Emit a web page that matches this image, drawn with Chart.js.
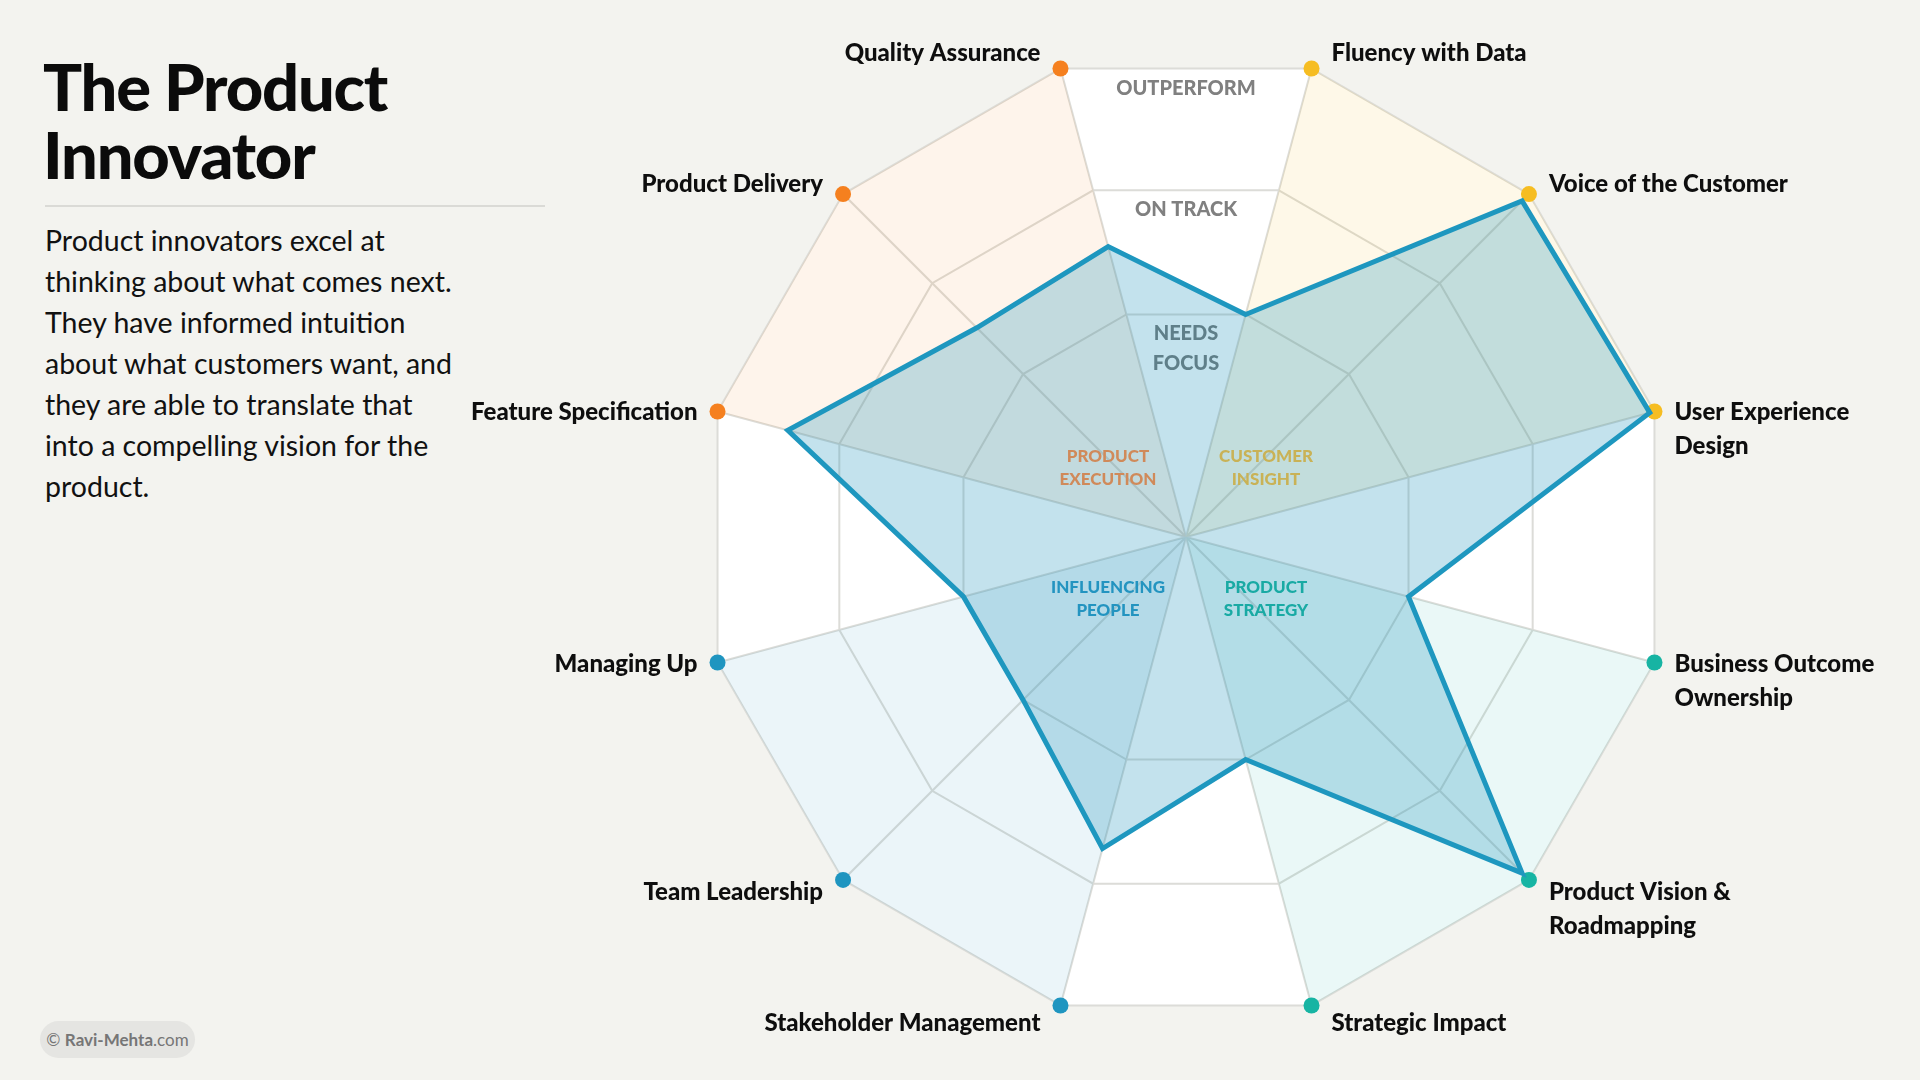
<!DOCTYPE html>
<html>
<head>
<meta charset="utf-8">
<title>The Product Innovator</title>
<script src="https://cdn.jsdelivr.net/npm/chart.js@4.4.1/dist/chart.umd.min.js"></script>
<style>
  html, body { margin: 0; padding: 0; }
  body {
    width: 1920px; height: 1080px; overflow: hidden; position: relative;
    background: #f3f3ef; color: #0b0b0b;
    font-family: Lato, 'Noto Sans', sans-serif;
  }
  #chartBox { position: absolute; left: 0; top: 0; width: 1920px; height: 1080px; }
  .title {
    position: absolute; left: 43px; top: 52px; margin: 0;
    font-size: 65px; line-height: 68px; font-weight: 900; letter-spacing: -1.2px;
  }
  .rule { position: absolute; left: 45px; top: 205px; width: 500px; height: 2px; background: #dadad6; }
  .blurb {
    position: absolute; left: 45px; top: 220px; margin: 0;
    font-size: 28.5px; line-height: 41px; font-weight: 400; color: #111;
  }
  .credit {
    position: absolute; left: 40px; top: 1021px; width: 155px; height: 37px;
    border-radius: 19px; background: #e5e5e2; color: #767676;
    font-size: 17px; line-height: 37px; text-align: center;
  }
</style>
</head>
<body>
<h1 class="title">The Product<br>Innovator</h1>
<div class="rule"></div>
<p class="blurb">Product innovators excel at<br>thinking about what comes next.<br>They have informed intuition<br>about what customers want, and<br>they are able to translate that<br>into a compelling vision for the<br>product.</p>
<div class="credit">© <b>Ravi-Mehta</b>.com</div>
<div id="chartBox"><canvas id="radar"></canvas></div>

<script>
// skills, clockwise from the first axis right of top
const skills = [
  ['Fluency with Data'],
  ['Voice of the Customer'],
  ['User Experience', 'Design'],
  ['Business Outcome', 'Ownership'],
  ['Product Vision &', 'Roadmapping'],
  ['Strategic Impact'],
  ['Stakeholder Management'],
  ['Team Leadership'],
  ['Managing Up'],
  ['Feature Specification'],
  ['Product Delivery'],
  ['Quality Assurance']
];
const scores = [47.5, 98, 99, 47.5, 98, 47.5, 66.5, 47.5, 47.5, 85, 61, 62];
const skillGroup = ['ci', 'ci', 'ci', 'ps', 'ps', 'ps', 'ip', 'ip', 'ip', 'pe', 'pe', 'pe'];

const groupKeys = ['ci', 'ps', 'ip', 'pe'];
const groupNames = [['CUSTOMER', 'INSIGHT'], ['PRODUCT', 'STRATEGY'], ['INFLUENCING', 'PEOPLE'], ['PRODUCT', 'EXECUTION']];

// ring boundaries: needs focus / on track / outperform
const ringLevels = [0, 47.5, 74, 100];
const ringNames = [['NEEDS', 'FOCUS'], ['ON TRACK'], ['OUTPERFORM']];

const scaleMax = 100;

// colours
const dotColors  = { ci: '#f6bd22', ps: '#17b4a3', ip: '#1f95c0', pe: '#f5801f' };
const wedgeFills = { ci: 'rgba(246,189,34,0.10)', ps: 'rgba(23,180,163,0.09)', ip: 'rgba(31,149,192,0.09)', pe: 'rgba(245,128,31,0.09)' };
const groupText  = { ci: '#c9b256', ps: '#19aaa4', ip: '#2394c0', pe: '#d08a5a' };

const wedgeSets = groupKeys.map(k => ({
  data: skillGroup.map(g => g === k ? scaleMax : 0),
  fill: true,
  backgroundColor: wedgeFills[k],
  borderColor: 'transparent',
  borderWidth: 0,
  pointRadius: c => c.raw > 0 ? 8 : 0,
  pointBackgroundColor: dotColors[k],
  pointBorderWidth: 0
}));

const scoreSet = {
  data: scores,
  fill: true,
  backgroundColor: 'rgba(32,148,190,0.27)',
  borderColor: '#1e97bf',
  borderWidth: 5,
  borderJoinStyle: 'miter',
  pointRadius: 0
};

const FONT = 'Lato, "Noto Sans", sans-serif';

const labelPlugin = {
  id: 'skillLabels',
  afterDraw(chart) {
    const r = chart.scales.r;
    const ctx = chart.ctx;
    const cx = r.xCenter, cy = r.yCenter, R = r.drawingArea;
    ctx.save();

    // axis names beside the dots
    ctx.textBaseline = 'alphabetic';
    ctx.font = '900 24px ' + FONT;
    ctx.fillStyle = '#0e0e0e';
    skills.forEach((lines, i) => {
      const p = r.getPointPosition(i, R);
      const a = r.getIndexAngle(i);
      const c = Math.cos(a);
      const right = Math.sin(a) > 0;
      ctx.textAlign = right ? 'left' : 'right';
      const x = p.x + (right ? 20 : -20);
      const shift = Math.max(0, Math.abs(c) - 0.26) * 24;
      const y = p.y - Math.sign(c) * shift + 9;
      lines.forEach((t, k) => ctx.fillText(t, x, y + k * 34));
    });

    // ring names up the top gap
    ctx.textBaseline = 'middle';
    ctx.textAlign = 'center';
    ctx.font = '900 20px ' + FONT;
    const ringPos = [0.388, 0.676, 0.924];
    ringNames.forEach((lines, i) => {
      ctx.fillStyle = i === 0 ? '#5f7f89' : '#808080';
      const y0 = cy - ringPos[i] * R - (lines.length - 1) * 15;
      lines.forEach((t, k) => ctx.fillText(t, cx, y0 + k * 30));
    });

    // group names near the middle
    ctx.font = '900 17px ' + FONT;
    groupKeys.forEach((k, gi) => {
      const mid = skillGroup.indexOf(k) + 1;
      const a = r.getIndexAngle(mid);
      const x = cx + (Math.sin(a) > 0 ? 80 : -78);
      const y = cy + (Math.cos(a) > 0 ? -69 : 62);
      ctx.fillStyle = groupText[k];
      groupNames[gi].forEach((t, j) => ctx.fillText(t, x, y - 11.5 + j * 23));
    });
    ctx.restore();
  }
};

new Chart(document.getElementById('radar').getContext('2d'), {
  type: 'radar',
  data: {
    labels: skills.map(s => s.join(' ')),
    datasets: [scoreSet, ...wedgeSets]
  },
  options: {
    responsive: true,
    maintainAspectRatio: false,
    animation: false,
    layout: { padding: { left: 701, right: 249, top: 52, bottom: 58 } },
    plugins: { legend: { display: false }, tooltip: { enabled: false } },
    scales: {
      r: {
        min: 0,
        max: scaleMax,
        startAngle: 15,
        backgroundColor: '#ffffff',
        ticks: { display: false },
        pointLabels: { display: false },
        grid: { color: '#dcdcd8', lineWidth: 2 },
        angleLines: { color: '#dcdcd8', lineWidth: 2 },
        afterBuildTicks: s => { s.ticks = ringLevels.map(v => ({ value: v })); }
      }
    }
  },
  plugins: [labelPlugin]
});
</script>
</body>
</html>
